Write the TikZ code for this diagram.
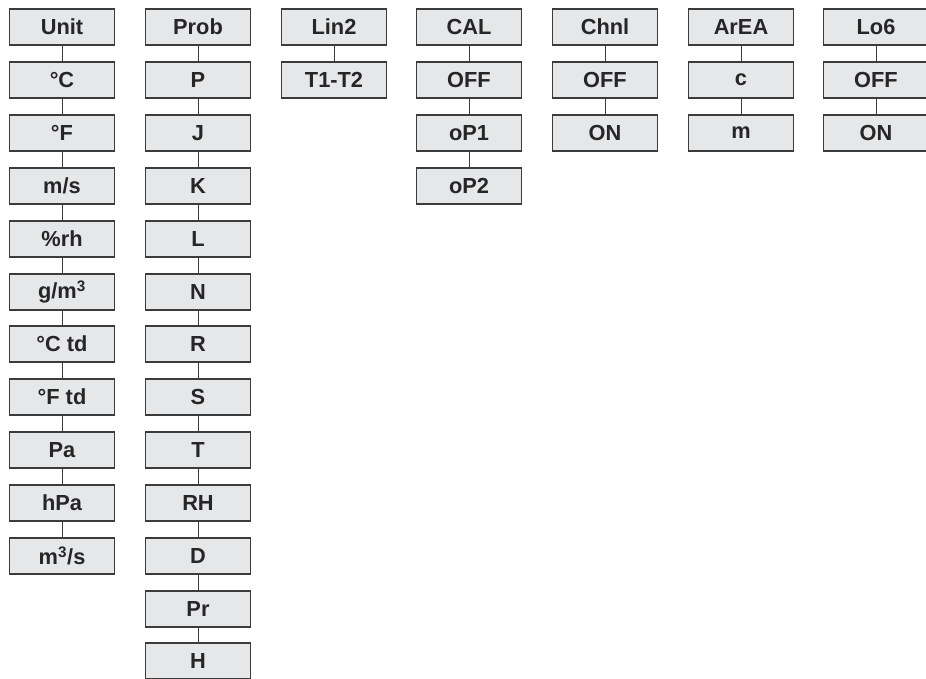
\documentclass[tikz,border=0pt]{standalone}
\usepackage{fontspec}
\setmainfont{Liberation Sans}
\usetikzlibrary{positioning}

\definecolor{boxfill}{HTML}{E6E7E8}
\definecolor{boxline}{HTML}{3C3C3C}
\newcommand{\cubed}{\textsuperscript{3}}
\tikzset{
 menubox/.style={draw=boxline, fill=boxfill, line width=0.8pt,
   minimum width=2.62cm, minimum height=0.9cm, inner sep=0pt,
   font=\fontsize{15.5}{17}\selectfont\bfseries, text=black!85},
 link/.style={draw=boxline, line width=0.7pt}
}

\begin{document}
\begin{tikzpicture}[x=0.025cm, y=-0.025cm]
 \useasboundingbox (0,0) rectangle (926,678);
 % Unit column
 \node[menubox] (unit) at (62,27) {Unit};
 \node[menubox] (u1) at (62,80) {°C};
 \node[menubox] (u2) at (62,133) {°F};
 \node[menubox] (u3) at (62,186) {m/s};
 \node[menubox] (u4) at (62,239) {\%rh};
 \node[menubox] (u5) at (62,292) {g/m\cubed};
 \node[menubox] (u6) at (62,344) {°C td};
 \node[menubox] (u7) at (62,397) {°F td};
 \node[menubox] (u8) at (62,450) {Pa};
 \node[menubox] (u9) at (62,503) {hPa};
 \node[menubox] (u10) at (62,556) {m\cubed/s};
 \draw[link] (unit) -- (u1) -- (u2) -- (u3) -- (u4) -- (u5) -- (u6) -- (u7) -- (u8) -- (u9) -- (u10);
 % Prob column
 \node[menubox] (prob) at (198,27) {Prob};
 \node[menubox] (p1) at (198,80) {P};
 \node[menubox] (p2) at (198,133) {J};
 \node[menubox] (p3) at (198,186) {K};
 \node[menubox] (p4) at (198,239) {L};
 \node[menubox] (p5) at (198,292) {N};
 \node[menubox] (p6) at (198,344) {R};
 \node[menubox] (p7) at (198,397) {S};
 \node[menubox] (p8) at (198,450) {T};
 \node[menubox] (p9) at (198,503) {RH};
 \node[menubox] (p10) at (198,556) {D};
 \node[menubox] (p11) at (198,609) {Pr};
 \node[menubox] (p12) at (198,661) {H};
 \draw[link] (prob) -- (p1) -- (p2) -- (p3) -- (p4) -- (p5) -- (p6) -- (p7) -- (p8) -- (p9) -- (p10) -- (p11) -- (p12);
 % Lin2
 \node[menubox] (lin) at (334,27) {Lin2};
 \node[menubox] (l1) at (334,80) {T1-T2};
 \draw[link] (lin) -- (l1);
 % CAL
 \node[menubox] (cal) at (469,27) {CAL};
 \node[menubox] (c1) at (469,80) {OFF};
 \node[menubox] (c2) at (469,133) {oP1};
 \node[menubox] (c3) at (469,186) {oP2};
 \draw[link] (cal) -- (c1) -- (c2) -- (c3);
 % Chnl
 \node[menubox] (chnl) at (605,27) {Chnl};
 \node[menubox] (h1) at (605,80) {OFF};
 \node[menubox] (h2) at (605,133) {ON};
 \draw[link] (chnl) -- (h1) -- (h2);
 % ArEA
 \node[menubox] (area) at (741,27) {ArEA};
 \node[menubox] (a1) at (741,80) {c};
 \node[menubox] (a2) at (741,133) {m};
 \draw[link] (area) -- (a1) -- (a2);
 % Lo6
 \node[menubox] (log) at (876,27) {Lo6};
 \node[menubox] (g1) at (876,80) {OFF};
 \node[menubox] (g2) at (876,133) {ON};
 \draw[link] (log) -- (g1) -- (g2);
\end{tikzpicture}
\end{document}
